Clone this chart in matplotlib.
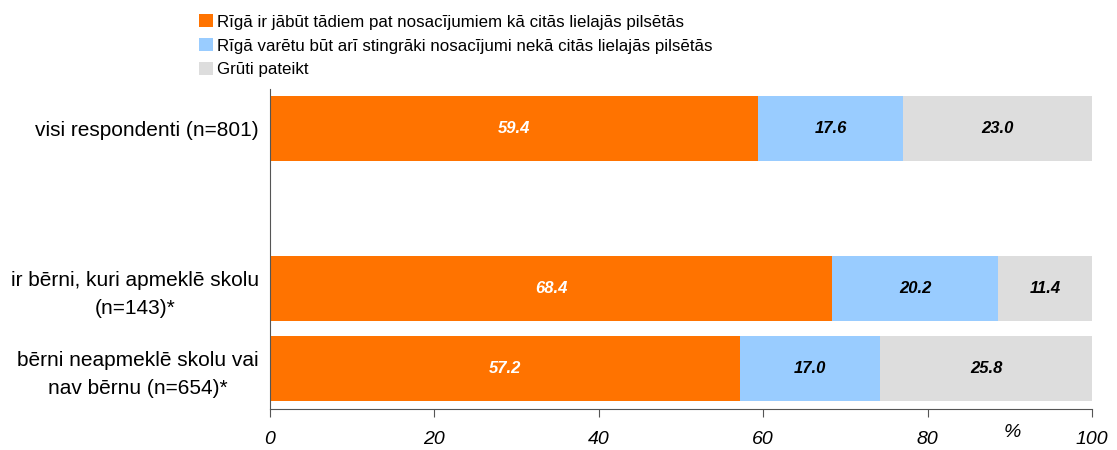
import matplotlib.pyplot as plt
from matplotlib.patches import Patch

plt.rcParams['font.family'] = ['Liberation Sans', 'DejaVu Sans']

categories = ['visi respondenti (n=801)', '',
              'ir bērni, kuri apmeklē skolu\n(n=143)*',
              'bērni neapmeklē skolu vai\nnav bērnu (n=654)*']
series_names = ['Rīgā ir jābūt tādiem pat nosacījumiem kā citās lielajās pilsētās',
                'Rīgā varētu būt arī stingrāki nosacījumi nekā citās lielajās pilsētās',
                'Grūti pateikt']
same = [59.4, None, 68.4, 57.2]
stricter = [17.6, None, 20.2, 17.0]
hard = [23.0, None, 11.4, 25.8]
colors = ['#FF7300', '#99CCFF', '#DDDDDD']
text_colors = ['white', 'black', 'black']

fig = plt.figure(figsize=(11.17, 4.5), dpi=100)
ax = fig.add_axes([270/1117, 1 - 408.5/450, 822/1117, 320/450])

pos = list(range(len(categories)))
for i in pos:
    if same[i] is None:
        continue
    left = 0
    for vals, c, tc in zip([same, stricter, hard], colors, text_colors):
        v = vals[i]
        ax.barh(i, v, left=left, height=0.8125, color=c, edgecolor='none')
        ax.text(left + v / 2, i, f'{v:.1f}', ha='center', va='center',
                color=tc, fontsize=12, fontweight='bold', fontstyle='italic')
        left += v

ax.set_xlim(0, 100)
ax.set_ylim(3.5, -0.5)
ax.set_yticks(pos)
ax.set_yticklabels(categories, fontsize=15, multialignment='center', linespacing=1.55)
ax.tick_params(axis='y', length=0, pad=8)
ax.set_xticks([0, 20, 40, 60, 80, 100])
ax.tick_params(axis='x', direction='out', length=6, pad=10, color='#555555')
for lab in ax.get_xticklabels():
    lab.set_fontsize(14)
    lab.set_fontstyle('italic')
ax.spines['top'].set_visible(False)
ax.spines['right'].set_visible(False)
ax.spines['left'].set_color('#555555')
ax.spines['bottom'].set_color('#555555')
ax.text(90.3, -0.075, '%', transform=ax.get_xaxis_transform(),
        ha='center', va='center', fontsize=14, fontstyle='italic')

handles = [Patch(facecolor=c, edgecolor='none') for c in colors]
fig.legend(handles, series_names, loc='upper left', bbox_to_anchor=(185/1117, 1.0),
           frameon=False, fontsize=12.2, handlelength=0.8, handleheight=0.8,
           handletextpad=0.25, labelspacing=0.5, borderaxespad=0.45)

fig.savefig('out.png', dpi=100)
